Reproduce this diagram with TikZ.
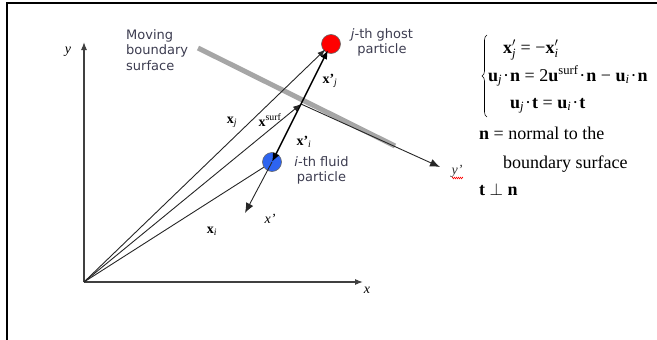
\documentclass[tikz,border=0pt]{standalone}
\usepackage{fontspec}
\setmainfont{Liberation Serif}
\newfontfamily\verd{DejaVu Sans}
\usetikzlibrary{arrows.meta,decorations.pathmorphing,decorations.pathreplacing}
\definecolor{fluidblue}{RGB}{45,100,240}
\definecolor{labgray}{RGB}{60,60,80}
\newcommand{\sbj}[1]{\textsubscript{\textit{#1}}}
\newcommand{\dotop}{\kern1pt·\kern1pt}
\begin{document}
\begin{tikzpicture}[x=1pt,y=-1pt,
  vec/.style={-{Latex[length=8pt,width=6pt]}, line width=0.9pt, black!85},
  locaxis/.style={-{Latex[length=10pt,width=8pt]}, line width=0.9pt, black!85},
  thickvec/.style={-{Latex[length=9pt,width=7pt]}, line width=1.5pt},
  axis/.style={-{Latex[length=8pt,width=6pt]}, line width=1.1pt, black!75},
  lbl/.style={font=\verd\fontsize{13}{15.5}\selectfont, text=labgray, inner sep=0},
  mlbl/.style={font=\fontsize{14}{16}\selectfont, inner sep=0},
  eq/.style={font=\fontsize{18}{27}\selectfont, inner sep=0, anchor=base west},
  particle/.style={circle, draw=black!60, line width=0.6pt, minimum size=19pt, inner sep=0}]
\useasboundingbox (0,0) rectangle (657,340);
% frame
\draw[line width=1.2pt] (7,340) -- (7,3) -- (657,3);
% coordinates
\coordinate (O) at (84,282);
\coordinate (ytip) at (84,42);
\coordinate (xtip) at (363,282);
\coordinate (S) at (301,104);
\coordinate (yptip) at (440,167);
\coordinate (xptip) at (245,213);
\coordinate (surfA) at (198,48);
\coordinate (surfB) at (395,146);
% boundary surface
\draw[line width=5pt, black!35] (surfA) -- (surfB);
% particles
\node[particle, fill=red] (gj) at (331,44) {};
\node[particle, fill=fluidblue] (fi) at (272,162) {};
% axes
\draw[axis] (O) -- (ytip);
\draw[axis] (O) -- (xtip);
% local axes
\draw[locaxis] (S) -- (yptip);
\draw[locaxis] (fi.center) -- (xptip);
% position vectors
\draw[vec, shorten >=-2pt] (O) -- (gj);
\draw[vec] (O) -- (S);
\draw[line width=0.9pt, black!85] (O) -- (fi);
\draw[thickvec, shorten >=-3pt] (S) -- (gj);
\draw[thickvec] (S) -- (fi.center);
% labels
\node[mlbl] (ly) at (68,52) {\textit{y}};
\node[mlbl] (lx) at (367,290) {\textit{x}};
\node[mlbl] (lxp) at (270,219) {\textit{x'}};
\node[mlbl, text=black!80] (lyp) at (457,171) {\textit{y'}};
\draw[red, line width=0.5pt, decorate, decoration={zigzag, segment length=2pt, amplitude=0.8pt}] (452,178) -- (463,178);
\node[mlbl] (lxj) at (232,122) {\textbf{x}\sbj{j}};
\node[mlbl] (lxs) at (270,120) {\textbf{x}\textsuperscript{surf}};
\node[mlbl] (lxpj) at (330,81) {\textbf{x'}\sbj{j}};
\node[mlbl] (lxpi) at (304,142) {\textbf{x'}\sbj{i}};
\node[mlbl] (lxi) at (212,231) {\textbf{x}\sbj{i}};
\node[lbl, align=left, anchor=north west] (lmov) at (126,29) {Moving\\boundary\\surface};
\node[lbl, align=center, anchor=north] (lghost) at (382,28) {{\itshape j}-th ghost\\particle};
\node[lbl, align=center, anchor=north] (lfluid) at (321.5,156) {{\itshape i}-th fluid\\particle};
% equations
\draw[line width=0.6pt, decorate, decoration={brace, amplitude=5pt, aspect=0.5}] (487,117) -- (487,35);
\node[eq] (e1) at (503,53) {\textbf{x}$'_{\mathit{j}}$ = −\textbf{x}$'_{\mathit{i}}$};
\node[eq] (e2) at (488,81) {\textbf{u}\sbj{j}\dotop\textbf{n} = 2\textbf{u}\textsuperscript{surf}\dotop\textbf{n} − \textbf{u}\sbj{i}\dotop\textbf{n}};
\node[eq] (e3) at (510,108) {\textbf{u}\sbj{j}\dotop\textbf{t} = \textbf{u}\sbj{i}\dotop\textbf{t}};
\node[eq] (e4) at (479,139) {\textbf{n} = normal to the};
\node[eq] (e5) at (503,168) {boundary surface};
\node[eq] (e6) at (479,195) {\textbf{t} $\perp$ \textbf{n}};
\end{tikzpicture}
\end{document}
